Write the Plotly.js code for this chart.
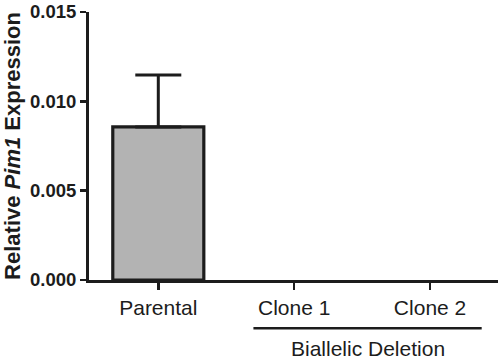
<!DOCTYPE html>
<html>
<head>
<meta charset="utf-8">
<script src="https://cdn.plot.ly/plotly-3.0.1.min.js"></script>
<style>html,body{margin:0;padding:0;background:#fff;}#chart{width:500px;height:360px;}</style>
</head>
<body>
<div id="chart"></div>
<script>
const categories = ["Parental", "Clone 1", "Clone 2"];
const values = [0.00857, 0, 0];
const errorsUp = [0.0029, 0, 0];
const yTickVals = [0, 0.005, 0.010, 0.015];
const yTickText = ["0.000", "0.005", "0.010", "0.015"];
const groupLabel = "Biallelic Deletion";
const groupStart = 0.70;   // category-axis position where group line starts
const groupEnd = 2.38;     // category-axis position where group line ends

const ink = "#1c1c1c";
const idx = [0, 1, 2];
const withErr = idx.filter(i => errorsUp[i] > 0);
const noErr = idx.filter(i => !(errorsUp[i] > 0));

const traces = [
  {
    type: "bar",
    x: withErr, y: withErr.map(i => values[i]),
    width: 0.67,
    marker: {color: "#b3b3b3", line: {color: ink, width: 3.2}},
    error_y: {type: "data", symmetric: false, array: withErr.map(i => errorsUp[i]),
              arrayminus: withErr.map(() => 0), visible: true, color: ink, thickness: 3, width: 23},
    hoverinfo: "skip"
  },
  {
    type: "bar",
    x: noErr, y: noErr.map(i => values[i]),
    width: 0.67,
    marker: {color: "#b3b3b3", line: {color: ink, width: 0}},
    hoverinfo: "skip"
  }
];

const layout = {
  width: 500, height: 360,
  margin: {l: 89, r: 2, t: 12, b: 80, pad: 0},
  paper_bgcolor: "#fff", plot_bgcolor: "#fff",
  showlegend: false,
  barmode: "overlay",
  font: {family: "Liberation Sans, Arial, sans-serif", color: ink},
  xaxis: {
    range: [-0.51, 2.5],
    tickvals: idx,
    ticktext: categories,
    ticks: "outside", ticklen: 7, tickwidth: 2.5, tickcolor: ink,
    showline: true, linewidth: 3, linecolor: ink,
    showgrid: false, zeroline: false,
    tickfont: {size: 21, color: ink},
    automargin: false,
    fixedrange: true
  },
  yaxis: {
    range: [0, 0.015],
    tickvals: yTickVals,
    ticktext: yTickText,
    ticks: "outside", ticklen: 6, tickwidth: 2.5, tickcolor: ink,
    showline: true, linewidth: 3, linecolor: ink,
    showgrid: false, zeroline: false,
    tickfont: {size: 18.5, color: ink, weight: "bold"},
    title: {text: "Relative <i>Pim1</i> Expression", font: {size: 22, color: ink, weight: "bold"}, standoff: 14},
    automargin: true,
    fixedrange: true
  },
  shapes: [{
    type: "line", xref: "x", yref: "paper",
    x0: groupStart, x1: groupEnd, y0: -0.18, y1: -0.18,
    line: {color: ink, width: 2.5}
  }],
  annotations: [{
    xref: "x", yref: "paper",
    x: (groupStart + groupEnd) / 2, y: -0.255,
    text: groupLabel, showarrow: false,
    font: {size: 21, color: ink},
    xanchor: "center", yanchor: "middle"
  }]
};

Plotly.newPlot("chart", traces, layout, {displayModeBar: false, staticPlot: true});
</script>
</body>
</html>
